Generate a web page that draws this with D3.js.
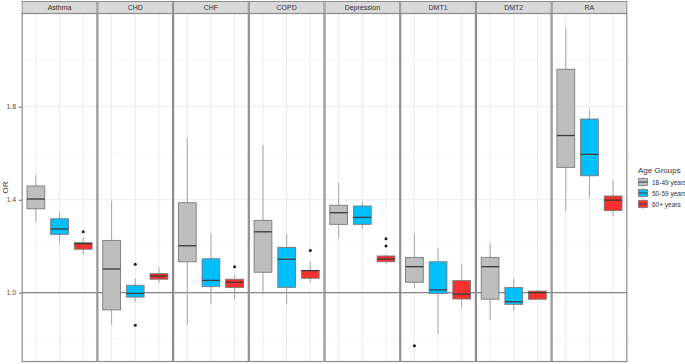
<!DOCTYPE html>
<html lang="en">
<head>
<meta charset="UTF-8">
<title>OR by age group</title>
<style>
  body { margin: 0; background: #fff; }
  text { font-family: "Liberation Sans", Arial, sans-serif; }
</style>
</head>
<body>
<script src="https://d3js.org/d3.v7.min.js"></script>
<div id="chart"></div>
<script>
// box stats: [lower whisker, q1, median, q3, upper whisker]
const diseases = ["Asthma", "CHD", "CHF", "COPD", "Depression", "DMT1", "DMT2", "RA"]
const ageGroups = ["18-49 years", "50-59 years", "60+ years"]

const young = [
  [1.303, 1.361, 1.403, 1.459, 1.506],
  [0.861, 0.926, 1.102, 1.225, 1.394],
  [0.861, 1.133, 1.202, 1.387, 1.667],
  [0.993, 1.088, 1.262, 1.311, 1.635],
  [1.234, 1.294, 1.344, 1.376, 1.473],
  [1.022, 1.045, 1.112, 1.152, 1.252],
  [0.883, 0.972, 1.112, 1.152, 1.212],
  [1.353, 1.539, 1.676, 1.961, 2.137]
]
const middle = [
  [1.212, 1.251, 1.274, 1.318, 1.346],
  [0.961, 0.981, 0.997, 1.032, 1.062],
  [0.951, 1.026, 1.053, 1.146, 1.252],
  [0.951, 1.023, 1.144, 1.195, 1.252],
  [1.275, 1.294, 1.324, 1.373, 1.391],
  [0.822, 0.997, 1.012, 1.133, 1.192],
  [0.923, 0.950, 0.961, 1.022, 1.062],
  [1.406, 1.503, 1.595, 1.747, 1.786]
]
const senior = [
  [1.162, 1.187, 1.211, 1.215, 1.238],
  [1.043, 1.058, 1.072, 1.082, 1.109],
  [0.973, 1.022, 1.045, 1.058, 1.075],
  [1.045, 1.062, 1.095, 1.096, 1.133],
  [1.125, 1.133, 1.145, 1.158, 1.163],
  [0.933, 0.973, 0.994, 1.052, 1.122],
  [0.972, 0.972, 1.000, 1.007, 1.012],
  [1.331, 1.353, 1.398, 1.416, 1.485]
]
// outliers: [disease, value]
const youngOut = [["DMT1", 0.772]]
const middleOut = [["CHD", 1.122], ["CHD", 0.860]]
const seniorOut = [["Asthma", 1.262], ["CHF", 1.112], ["COPD", 1.182], ["Depression", 1.232], ["Depression", 1.201]]

const yTicks = [1.0, 1.4, 1.8]
const yMinor = [0.8, 1.2, 1.6, 2.0]

const stats = [young, middle, senior]
const outs = [youngOut, middleOut, seniorOut]
const colors = ["#bebebe", "#00bfff", "#f8302f"]

const W = 685, H = 364
const PLOT = { LEFT: 21.7, RIGHT: 627.3, TOP: 13, BOTTOM: 362, STRIP: 12 }

const svg = d3.select("#chart").append("svg")
  .attr("width", W).attr("height", H)

const fx = d3.scaleBand().domain(diseases).range([PLOT.LEFT, PLOT.RIGHT])
const pw = fx.bandwidth()
const x = d3.scalePoint().domain(ageGroups).range([0, pw]).padding(0.6)
const boxW = x.step() * 0.75
const y = d3.scaleLinear().domain([0.702, 2.203]).range([PLOT.BOTTOM, PLOT.TOP])

diseases.forEach((dis, di) => {
  const p = svg.append("g").attr("transform", `translate(${fx(dis)},0)`)

  // strip
  p.append("rect")
    .attr("x", 0.5).attr("y", PLOT.TOP - PLOT.STRIP + 0.5)
    .attr("width", pw - 1).attr("height", PLOT.STRIP)
    .attr("fill", "#d9d9d9").attr("stroke", "#8c8c8c").attr("stroke-width", 1)
  p.append("text")
    .attr("x", pw / 2).attr("y", PLOT.TOP - PLOT.STRIP / 2 + 3)
    .attr("text-anchor", "middle").attr("font-size", 7).attr("fill", "#333")
    .text(dis)

  // grid
  p.selectAll(".minor").data(yMinor).join("line")
    .attr("x1", 0).attr("x2", pw).attr("y1", d => y(d)).attr("y2", d => y(d))
    .attr("stroke", "#f3f3f3").attr("stroke-width", 0.6)
  p.selectAll(".major").data(yTicks).join("line")
    .attr("x1", 0).attr("x2", pw).attr("y1", d => y(d)).attr("y2", d => y(d))
    .attr("stroke", "#ebebeb").attr("stroke-width", 1)
  p.selectAll(".vgrid").data(ageGroups).join("line")
    .attr("x1", d => x(d)).attr("x2", d => x(d)).attr("y1", PLOT.TOP).attr("y2", PLOT.BOTTOM)
    .attr("stroke", "#ebebeb").attr("stroke-width", 1)

  // reference line at OR = 1
  p.append("line")
    .attr("x1", 0).attr("x2", pw).attr("y1", y(1)).attr("y2", y(1))
    .attr("stroke", "#6b6b6b").attr("stroke-width", 1)

  ageGroups.forEach((grp, gi) => {
    const s = stats[gi][di]
    const cx = x(grp)
    p.append("line")
      .attr("x1", cx).attr("x2", cx).attr("y1", y(s[0])).attr("y2", y(s[1]))
      .attr("stroke", "#a6a6a6").attr("stroke-width", 1)
    p.append("line")
      .attr("x1", cx).attr("x2", cx).attr("y1", y(s[3])).attr("y2", y(s[4]))
      .attr("stroke", "#a6a6a6").attr("stroke-width", 1)
    p.append("rect")
      .attr("x", cx - boxW / 2).attr("y", y(s[3]))
      .attr("width", boxW).attr("height", Math.max(1, y(s[1]) - y(s[3])))
      .attr("fill", colors[gi]).attr("stroke", "#7a7a7a").attr("stroke-width", 0.9)
    p.append("line")
      .attr("x1", cx - boxW / 2).attr("x2", cx + boxW / 2)
      .attr("y1", y(s[2])).attr("y2", y(s[2]))
      .attr("stroke", "#3a3a3a").attr("stroke-width", 1.3)
    outs[gi].filter(o => o[0] === dis).forEach(o => {
      p.append("circle").attr("cx", cx).attr("cy", y(o[1])).attr("r", 1.5).attr("fill", "#1a1a1a")
    })
  })

  // panel border
  p.append("rect")
    .attr("x", 0.5).attr("y", PLOT.TOP + 0.5)
    .attr("width", pw - 1).attr("height", PLOT.BOTTOM - PLOT.TOP - 1)
    .attr("fill", "none").attr("stroke", "#8c8c8c").attr("stroke-width", 1.2)
})

// y axis
const yAxis = svg.append("g").attr("transform", `translate(${PLOT.LEFT},0)`)
  .call(d3.axisLeft(y).tickValues(yTicks).tickFormat(d3.format(".1f")).tickSize(2.5))
yAxis.select(".domain").remove()
yAxis.selectAll("line").attr("stroke", "#4d4d4d")
yAxis.selectAll("text").attr("font-size", 7).attr("fill", "#4d4d4d")
  .attr("font-family", "Liberation Sans, Arial, sans-serif")

svg.append("text")
  .attr("transform", `translate(8,${(PLOT.TOP + PLOT.BOTTOM) / 2}) rotate(-90)`)
  .attr("text-anchor", "middle").attr("font-size", 8).attr("fill", "#333")
  .text("OR")

// legend
const lg = svg.append("g").attr("transform", "translate(638,0)")
lg.append("text").attr("x", 0).attr("y", 173).attr("font-size", 8).attr("fill", "#333").text("Age Groups")
ageGroups.forEach((grp, gi) => {
  const cy = 182 + gi * 11
  lg.append("line").attr("x1", 5).attr("x2", 5).attr("y1", cy - 5).attr("y2", cy + 5)
    .attr("stroke", "#a6a6a6")
  lg.append("rect").attr("x", 0.5).attr("y", cy - 3.5).attr("width", 9).attr("height", 7)
    .attr("fill", colors[gi]).attr("stroke", "#7a7a7a").attr("stroke-width", 0.8)
  lg.append("line").attr("x1", 0.5).attr("x2", 9.5).attr("y1", cy).attr("y2", cy)
    .attr("stroke", "#3a3a3a").attr("stroke-width", 1)
  lg.append("text").attr("x", 14).attr("y", cy + 2.5).attr("font-size", 6.5).attr("fill", "#333").text(grp)
})
</script>
</body>
</html>
